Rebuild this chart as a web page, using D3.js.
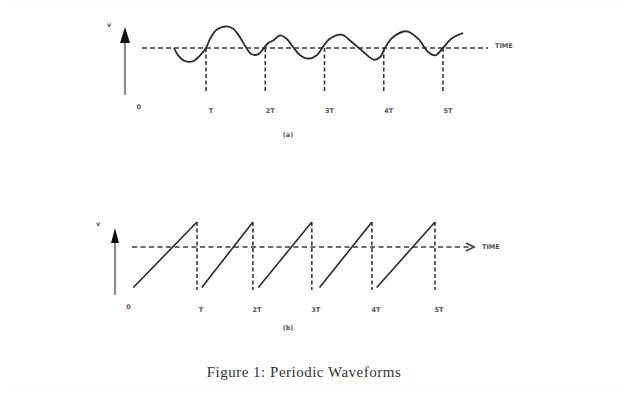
<!DOCTYPE html>
<html>
<head>
<meta charset="utf-8">
<script src="https://cdn.jsdelivr.net/npm/d3@7"></script>
<style>
  body { margin: 0; background: #fff; }
  svg { display: block; }
</style>
</head>
<body>
<div id="chart"></div>
<script>
// tick labels (in units of T)
const tickTimes = [1, 2, 3, 4, 5];
const tickLabels = ["T", "2T", "3T", "4T", "5T"];

// (a) smooth periodic waveform (t in T, v relative to baseline)
const waveT = [0.46, 0.53, 0.645, 0.79, 0.9, 1.0, 1.07, 1.18, 1.35, 1.46, 1.57, 1.69, 1.77, 1.88, 1.97,
  2.05, 2.14, 2.25, 2.36, 2.47, 2.59, 2.73, 2.87, 2.96, 3.09, 3.29, 3.46, 3.66, 3.83, 3.94,
  4.02, 4.16, 4.39, 4.58, 4.75, 4.87, 5.0, 5.14, 5.34];
const waveV = [0, -0.73, -1.3, -1.3, -0.73, 0, 0.93, 1.83, 2.17, 1.93, 1.1, -0.07, -0.63, -0.63, -0.07,
  0.5, 0.77, 1.27, 0.93, 0.1, -0.73, -1.07, -0.73, 0, 0.93, 1.33, 0.6, -0.4, -1.17, -0.9,
  0, 1.1, 1.67, 0.93, -0.4, -0.73, 0, 0.93, 1.5];

// (b) sawtooth ramps: start / end times and levels
const rampStart = [-0.07, 1.08, 2.03, 3.06, 4.02];
const rampEnd = [1.0, 1.94, 2.93, 3.94, 5.0];
const rampLow = -1.62;
const rampHigh = 1.0;

const width = 632, height = 396;
const svg = d3.select("#chart").append("svg")
    .attr("width", width)
    .attr("height", height);

svg.append("rect")
    .attr("x", 8).attr("y", 6)
    .attr("width", width - 16).attr("height", height - 12)
    .attr("fill", "none")
    .attr("stroke", "#f7f7f7");

const ink = "#3a3a3a";

function drawAxisFrame(g, opts) {
    // vertical arrow
    g.append("line")
        .attr("x1", opts.ax).attr("x2", opts.ax)
        .attr("y1", opts.ay0).attr("y2", opts.ay1 + opts.headH)
        .attr("stroke", "#8a8a8a")
        .attr("stroke-width", 2.2);
    g.append("path")
        .attr("d", `M${opts.ax},${opts.ay1} L${opts.ax - opts.headW / 2},${opts.ay1 + opts.headH} L${opts.ax + opts.headW / 2},${opts.ay1 + opts.headH} Z`)
        .attr("fill", "#111");
    g.append("text")
        .attr("x", opts.vx).attr("y", opts.vy)
        .attr("font-family", "DejaVu Sans, sans-serif")
        .attr("font-size", 6.5)
        .attr("font-weight", "bold")
        .attr("fill", "#555")
        .attr("text-anchor", "middle")
        .attr("dy", ".35em")
        .text("v");
}

function tickText(g, x, y, label) {
    g.append("text")
        .attr("x", x).attr("y", y)
        .attr("font-family", "DejaVu Sans, sans-serif")
        .attr("font-size", 6.5)
        .attr("font-weight", "bold")
        .attr("fill", "#555")
        .attr("text-anchor", "middle")
        .attr("dy", ".35em")
        .text(label);
}

// ---------- panel (a) ----------
const xA = d3.scaleLinear().domain([1, 5]).range([206, 443]);
const yA = d3.scaleLinear().domain([0, 1]).range([48, 38]);
const gA = svg.append("g");

drawAxisFrame(gA, { ax: 125, ay0: 95, ay1: 27, headW: 10, headH: 16, vx: 109, vy: 25 });

gA.append("line")
    .attr("x1", 142).attr("x2", 488)
    .attr("y1", yA(0)).attr("y2", yA(0))
    .attr("stroke", ink).attr("stroke-width", 1.6)
    .attr("stroke-dasharray", "5,3");

gA.append("text")
    .attr("x", 495).attr("y", yA(0) - 2)
    .attr("font-family", "DejaVu Sans, sans-serif")
    .attr("font-size", 6.5)
    .attr("font-weight", "bold")
    .attr("fill", "#555")
    .attr("dy", ".35em")
    .text("TIME");

gA.selectAll(".vdash")
    .data(tickTimes)
    .enter().append("line")
    .attr("class", "vdash")
    .attr("x1", d => xA(d)).attr("x2", d => xA(d))
    .attr("y1", yA(0)).attr("y2", 93)
    .attr("stroke", ink).attr("stroke-width", 1.6)
    .attr("stroke-dasharray", "4,2.5");

const waveLine = d3.line()
    .x(d => xA(d[0]))
    .y(d => yA(d[1]))
    .curve(d3.curveCatmullRom.alpha(0.5));

gA.append("path")
    .datum(waveT.map((t, i) => [t, waveV[i]]))
    .attr("d", waveLine)
    .attr("fill", "none")
    .attr("stroke", "#2a2a2a")
    .attr("stroke-width", 1.8);

tickText(gA, xA(0) - 8, 107, "0");
tickTimes.forEach((t, i) => tickText(gA, xA(t) + 5, 111, tickLabels[i]));
tickText(gA, 288, 135, "(a)");

// ---------- panel (b) ----------
const xB = d3.scaleLinear().domain([1, 5]).range([197, 435]);
const yB = d3.scaleLinear().domain([0, 1]).range([247, 222]);
const gB = svg.append("g");

drawAxisFrame(gB, { ax: 115, ay0: 295, ay1: 228, headW: 8, headH: 15, vx: 98, vy: 224 });

gB.append("line")
    .attr("x1", 132).attr("x2", 472)
    .attr("y1", yB(0)).attr("y2", yB(0))
    .attr("stroke", ink).attr("stroke-width", 1.6)
    .attr("stroke-dasharray", "5,3.5");

gB.append("path")
    .attr("d", `M466,${yB(0) - 4} L474,${yB(0)} L466,${yB(0) + 4}`)
    .attr("fill", "none")
    .attr("stroke", ink)
    .attr("stroke-width", 1.6);

gB.append("text")
    .attr("x", 482).attr("y", yB(0))
    .attr("font-family", "DejaVu Sans, sans-serif")
    .attr("font-size", 6.5)
    .attr("font-weight", "bold")
    .attr("fill", "#555")
    .attr("dy", ".35em")
    .text("TIME");

gB.selectAll(".vdash")
    .data(rampEnd)
    .enter().append("line")
    .attr("class", "vdash")
    .attr("x1", d => xB(d)).attr("x2", d => xB(d))
    .attr("y1", yB(rampHigh)).attr("y2", 290)
    .attr("stroke", ink).attr("stroke-width", 1.6)
    .attr("stroke-dasharray", "4,2.5");

gB.selectAll(".ramp")
    .data(rampStart)
    .enter().append("line")
    .attr("class", "ramp")
    .attr("x1", d => xB(d)).attr("y1", yB(rampLow))
    .attr("x2", (d, i) => xB(rampEnd[i])).attr("y2", yB(rampHigh))
    .attr("stroke", "#2a2a2a")
    .attr("stroke-width", 1.6);

tickText(gB, xB(0) - 9, 307, "0");
tickTimes.forEach((t, i) => tickText(gB, xB(rampEnd[i]) + 4, 310, tickLabels[i]));
tickText(gB, 288, 328, "(b)");

// caption
svg.append("text")
    .attr("x", 304).attr("y", 372)
    .attr("font-family", "Liberation Serif, serif")
    .attr("font-size", 15)
    .attr("letter-spacing", 0.5)
    .attr("fill", "#333")
    .attr("text-anchor", "middle")
    .attr("dy", ".35em")
    .text("Figure 1: Periodic Waveforms");
</script>
</body>
</html>
